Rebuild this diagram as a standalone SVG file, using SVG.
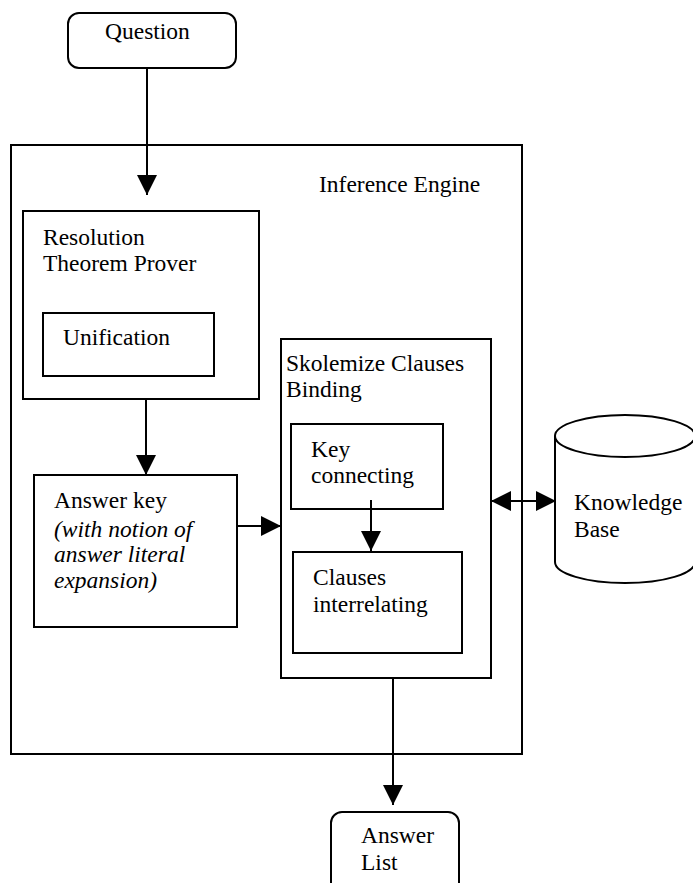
<svg xmlns="http://www.w3.org/2000/svg" width="693" height="883" viewBox="0 0 693 883">
<defs>
<style>
.b{fill:#fff;stroke:#000;stroke-width:2}
.o{fill:none;stroke:#000;stroke-width:2}
.t{font-family:'Liberation Serif','Tinos','Times New Roman','Times','DejaVu Serif',serif;font-size:23.5px;fill:#000}
.i{font-style:italic}
.c{fill:none;stroke:#000;stroke-width:2}
</style>
<marker id="ah" markerUnits="userSpaceOnUse" markerWidth="20" markerHeight="20" refX="20" refY="10" orient="auto-start-reverse" viewBox="0 0 20 20">
<path d="M0,0 L20,10 L0,20 z" fill="#000"/>
</marker>
</defs>
<rect x="0" y="0" width="693" height="883" fill="#fff"/>

<g id="inference-engine">
<rect class="o" x="11" y="145" width="511" height="609"/>
<text class="t" font-family="Liberation Serif, serif" x="319" y="192">Inference Engine</text>
</g>

<g id="question">
<rect class="b" x="68" y="13" width="168" height="55" rx="11"/>
<text class="t" font-family="Liberation Serif, serif" x="105" y="39">Question</text>
</g>

<g id="resolution">
<rect class="b" x="23" y="211" width="236" height="188"/>
<text class="t" font-family="Liberation Serif, serif" x="43" y="245">Resolution</text>
<text class="t" font-family="Liberation Serif, serif" x="43" y="271">Theorem Prover</text>
</g>

<g id="unification">
<rect class="b" x="43" y="313" width="171" height="63"/>
<text class="t" font-family="Liberation Serif, serif" x="63" y="345">Unification</text>
</g>

<g id="answer-key">
<rect class="b" x="34" y="475" width="203" height="152"/>
<text class="t" font-family="Liberation Serif, serif" x="54" y="508">Answer key</text>
<text class="t i" font-family="Liberation Serif, serif" x="54" y="537">(with notion of</text>
<text class="t i" font-family="Liberation Serif, serif" x="54" y="562">answer literal</text>
<text class="t i" font-family="Liberation Serif, serif" x="54" y="588">expansion)</text>
</g>

<g id="skolemize">
<rect class="b" x="281" y="339" width="210" height="339"/>
<text class="t" font-family="Liberation Serif, serif" x="286" y="371">Skolemize Clauses</text>
<text class="t" font-family="Liberation Serif, serif" x="286" y="397">Binding</text>
</g>

<g id="key-connecting">
<rect class="b" x="291" y="424" width="152" height="85"/>
<text class="t" font-family="Liberation Serif, serif" x="311" y="457">Key</text>
<text class="t" font-family="Liberation Serif, serif" x="311" y="483">connecting</text>
</g>

<g id="clauses-interrelating">
<rect class="b" x="293" y="552" width="169" height="101"/>
<text class="t" font-family="Liberation Serif, serif" x="313" y="585">Clauses</text>
<text class="t" font-family="Liberation Serif, serif" x="313" y="612">interrelating</text>
</g>

<g id="knowledge-base">
<path class="b" d="M555,436 L555,562 A70,21 0 0 0 695,562 L695,436"/>
<ellipse class="b" cx="625" cy="436" rx="70" ry="21"/>
<text class="t" font-family="Liberation Serif, serif" x="574" y="510">Knowledge</text>
<text class="t" font-family="Liberation Serif, serif" x="574" y="537">Base</text>
</g>

<g id="answer-list">
<rect class="b" x="331" y="812" width="128" height="90" rx="11"/>
<text class="t" font-family="Liberation Serif, serif" x="361" y="843">Answer</text>
<text class="t" font-family="Liberation Serif, serif" x="361" y="870">List</text>
</g>

<g id="connectors">
<line class="c" x1="147" y1="68" x2="147" y2="195" marker-end="url(#ah)"/>
<line class="c" x1="146" y1="399" x2="146" y2="475" marker-end="url(#ah)"/>
<line class="c" x1="237" y1="526" x2="281" y2="526" marker-end="url(#ah)"/>
<line class="c" x1="371" y1="500" x2="371" y2="551" marker-end="url(#ah)"/>
<line class="c" x1="491" y1="501" x2="556" y2="501" marker-start="url(#ah)" marker-end="url(#ah)"/>
<line class="c" x1="393" y1="678" x2="393" y2="805" marker-end="url(#ah)"/>
</g>
</svg>
